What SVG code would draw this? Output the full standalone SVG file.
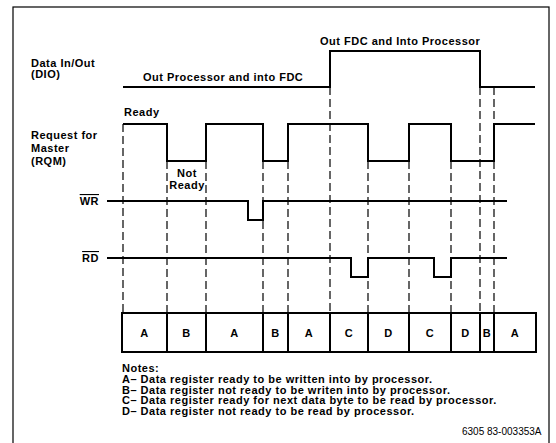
<svg xmlns="http://www.w3.org/2000/svg" width="556" height="443" viewBox="0 0 556 443">
<style>
text{font-family:"Liberation Sans",Arial,sans-serif;font-weight:bold;font-size:11px;letter-spacing:0.5px;fill:#000}
.sig{fill:none;stroke:#000;stroke-width:2;stroke-linejoin:miter}
.dash{fill:none;stroke:#000;stroke-width:1.2;stroke-dasharray:8,4}
.box{fill:#fff;stroke:#000;stroke-width:2}
.mid{text-anchor:middle}
.end{text-anchor:end}
.ov{text-decoration:overline}
.foot{font-weight:normal;font-size:10px;letter-spacing:0}
</style>
<rect x="0" y="0" width="556" height="443" fill="#fff"/>
<rect id="frame" x="13" y="7" width="536" height="450" fill="none" stroke="#000" stroke-width="1.2"/>

<g id="labels">
<text x="31" y="67">Data In/Out</text>
<text x="31" y="78">(DIO)</text>
<text x="31" y="139">Request for</text>
<text x="31" y="152">Master</text>
<text x="31" y="165">(RQM)</text>
<text x="99" y="205" class="end"><tspan class="ov">WR</tspan></text>
<text x="99" y="262" class="end"><tspan class="ov">RD</tspan></text>
</g>

<g id="connectors">
<path class="dash" d="M123,124V313 M167,161V313 M206,161V313 M263,161V313 M288,161V313 M330,87V313 M368,161V313 M409,161V313 M451,161V313 M480,87V313 M494,87V124 M494,161V313"/>
</g>

<g id="dio">
<path class="sig" d="M123,87H330V51H480V87H535"/>
<text x="143" y="81">Out Processor and into FDC</text>
<text x="320" y="45">Out FDC and Into Processor</text>
</g>

<g id="rqm">
<path class="sig" d="M123,124H167V161H206V124H263V161H288V124H368V161H409V124H451V161H494V124H535"/>
<text x="124" y="116">Ready</text>
<text x="187" y="177" class="mid">Not</text>
<text x="187" y="189" class="mid">Ready</text>
</g>

<g id="wr">
<path class="sig" d="M107,201H248V220H263V201H507"/>
</g>

<g id="rd">
<path class="sig" d="M107,258H351V277H368V258H434V277H451V258H507"/>
</g>

<g id="states">
<rect class="box" x="122" y="313" width="414" height="39"/>
<path class="sig" d="M167,313V352 M206,313V352 M263,313V352 M288,313V352 M330,313V352 M368,313V352 M409,313V352 M451,313V352 M480,313V352 M494,313V352"/>
<text x="144.5" y="337" class="mid">A</text>
<text x="186.5" y="337" class="mid">B</text>
<text x="234.5" y="337" class="mid">A</text>
<text x="275.5" y="337" class="mid">B</text>
<text x="309" y="337" class="mid">A</text>
<text x="349" y="337" class="mid">C</text>
<text x="388.5" y="337" class="mid">D</text>
<text x="430" y="337" class="mid">C</text>
<text x="465.5" y="337" class="mid">D</text>
<text x="487" y="337" class="mid">B</text>
<text x="515" y="337" class="mid">A</text>
</g>

<g id="notes">
<text x="122" y="372">Notes:</text>
<text x="122" y="383">A– Data register ready to be written into by processor.</text>
<text x="122" y="393.5">B– Data register not ready to be writen into by processor.</text>
<text x="122" y="404">C– Data register ready for next data byte to be read by processor.</text>
<text x="122" y="414.5">D– Data register not ready to be read by processor.</text>
<text x="462" y="435" class="foot">6305<tspan x="487">83-003353A</tspan></text>
</g>
</svg>
